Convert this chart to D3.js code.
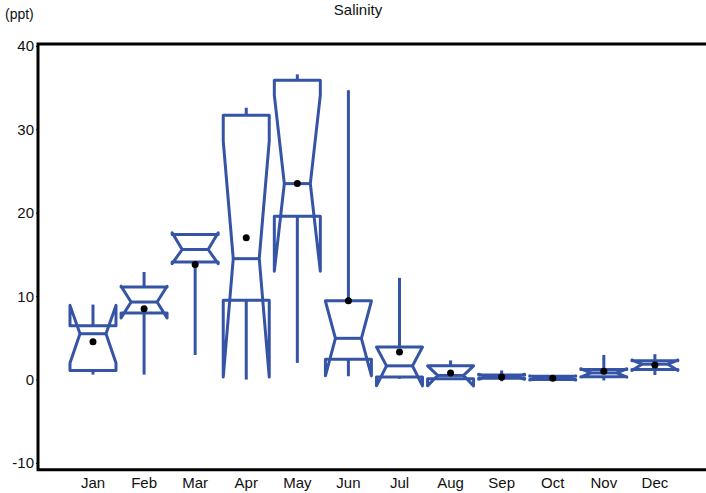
<!DOCTYPE html>
<html>
<head>
<meta charset="utf-8">
<script src="https://cdn.jsdelivr.net/npm/d3@7"></script>
<style>
  body { margin: 0; background: #fff; }
  text { font-family: "Liberation Sans", Arial, sans-serif; }
</style>
</head>
<body>
<svg id="chart" width="706" height="493"></svg>
<script>
//  values (ppt)
const months   = ["Jan","Feb","Mar","Apr","May","Jun","Jul","Aug","Sep","Oct","Nov","Dec"];
const mins     = [0.6, 0.6, 2.95, 0.0, 2.0, 0.4, 0.1, 0.05, -0.2, -0.05, -0.1, 0.55];
const q1s      = [1.1, 8.0, 14.1, 9.5, 19.6, 2.45, 0.3, 0.1, 0.15, 0.0, 0.35, 1.2];
const notchLo  = [2.0, 7.4, 13.9, 0.3, 13.0, 0.45, -0.75, -0.75, 0.05, -0.05, 0.3, 1.1];
const medians  = [5.5, 9.3, 15.6, 14.5, 23.5, 4.95, 1.65, 0.5, 0.35, 0.2, 0.8, 1.85];
const notchHi  = [8.9, 11.2, 17.6, 28.6, 34.1, 9.4, 3.9, 1.65, 0.65, 0.45, 1.3, 2.35];
const q3s      = [6.45, 11.1, 17.4, 31.7, 35.9, 9.45, 3.9, 1.65, 0.55, 0.4, 1.2, 2.25];
const maxs     = [9.0, 12.9, 17.5, 32.6, 36.6, 34.7, 12.2, 2.3, 1.1, 0.5, 2.95, 3.05];
const means    = [4.55, 8.5, 13.8, 17.0, 23.5, 9.45, 3.3, 0.8, 0.3, 0.15, 1.0, 1.75];
const yTicks   = [-10, 0, 10, 20, 30, 40];

const blue = "#3654a6";
const svg = d3.select("#chart");

const x = d3.scaleBand().domain(months).range([67.45, 680.45]);
const y = d3.scaleLinear().domain([-10, 40]).range([463, 46]);

const half = 23, inset = 10;

//  frame
svg.append("path")
  .attr("d", `M710,${y(40.24)}H38V${y(-10.8)}H710`)
  .attr("fill", "none")
  .attr("stroke", "#000")
  .attr("stroke-width", 3);

//  y axis labels (plain hyphen for negatives, like the original)
svg.append("g")
  .attr("transform", "translate(38,0)")
  .call(d3.axisLeft(y).tickValues(yTicks).tickSize(2).tickPadding(2).tickFormat(d => String(d)))
  .call(g => g.select(".domain").remove())
  .call(g => g.selectAll("text").style("font-size", "15px").attr("fill", "#111"));

//  x axis labels
svg.append("g")
  .attr("transform", `translate(0,${y(-10.8)})`)
  .call(d3.axisBottom(x).tickSize(0).tickPadding(8))
  .call(g => g.select(".domain").remove())
  .call(g => g.selectAll("text").style("font-size", "15px").attr("fill", "#111"));

svg.append("text").attr("x", 358).attr("y", 15).attr("text-anchor", "middle")
  .style("font-size", "15px").attr("fill", "#111").text("Salinity");
svg.append("text").attr("x", 5).attr("y", 19)
  .style("font-size", "14px").attr("fill", "#111").text("(ppt)");

//  boxes
months.forEach((m, i) => {
  const c = x(m) + x.bandwidth() / 2;
  const L = c - half, R = c + half, Li = c - half + inset, Ri = c + half - inset;
  const g = svg.append("g")
    .attr("fill", "none")
    .attr("stroke", blue)
    .attr("stroke-width", 3)
    .attr("stroke-linejoin", "round");

  //  whiskers
  g.append("line").attr("x1", c).attr("x2", c).attr("y1", y(q3s[i])).attr("y2", y(maxs[i]));
  g.append("line").attr("x1", c).attr("x2", c).attr("y1", y(q1s[i])).attr("y2", y(mins[i]));

  //  notched box outline
  const pts = [
    [L, y(q1s[i])], [L, y(notchLo[i])], [Li, y(medians[i])], [L, y(notchHi[i])], [L, y(q3s[i])],
    [R, y(q3s[i])], [R, y(notchHi[i])], [Ri, y(medians[i])], [R, y(notchLo[i])], [R, y(q1s[i])]
  ];
  g.append("path").attr("d", d3.line()(pts) + "Z");
  g.append("line").attr("x1", Li).attr("x2", Ri).attr("y1", y(medians[i])).attr("y2", y(medians[i]));

  //  mean
  svg.append("circle").attr("cx", c).attr("cy", y(means[i])).attr("r", 3.5).attr("fill", "#000");
});
</script>
</body>
</html>
